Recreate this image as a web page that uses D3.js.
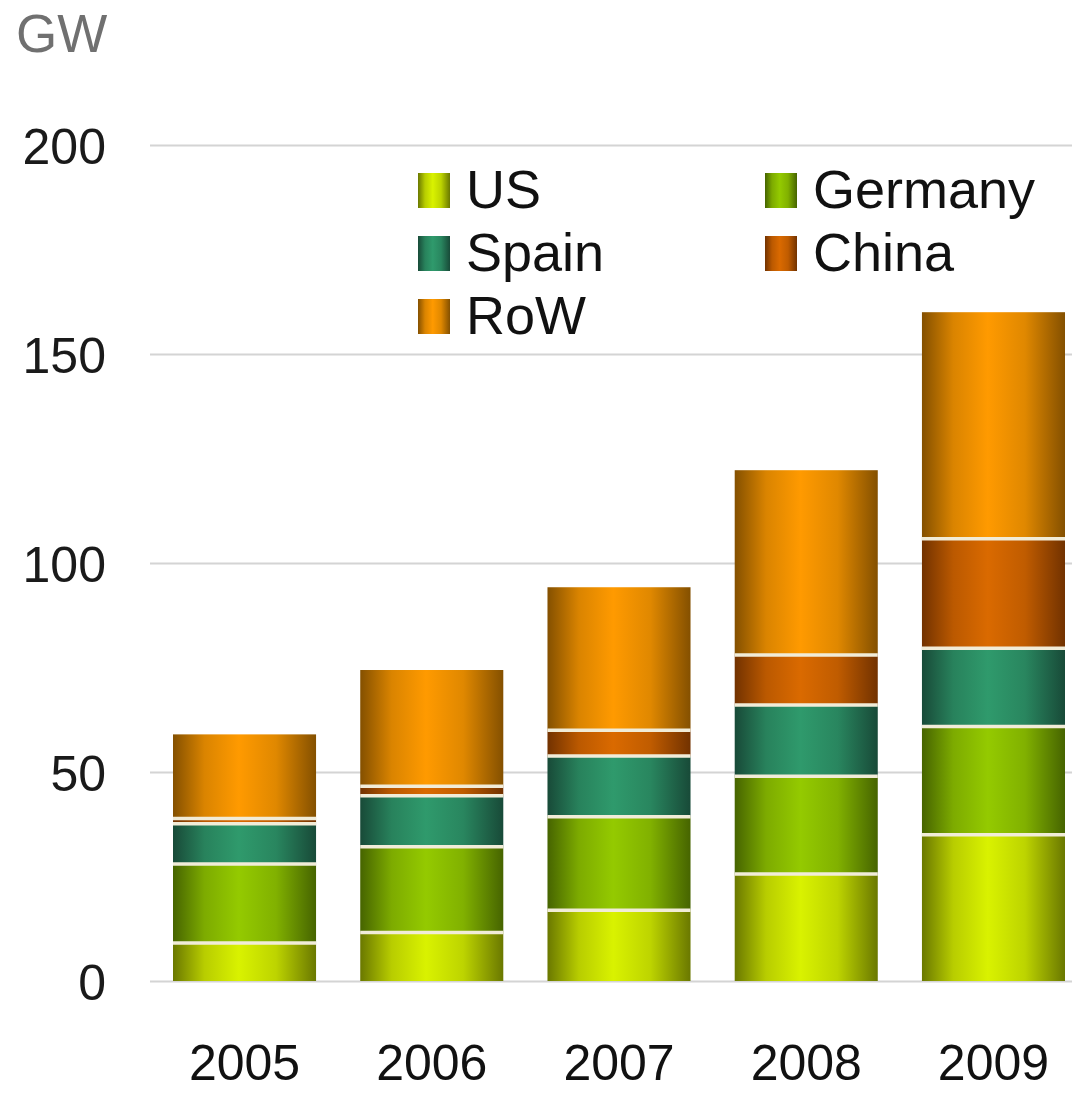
<!DOCTYPE html>
<html>
<head>
<meta charset="utf-8">
<script src="https://cdn.jsdelivr.net/npm/d3@7"></script>
<style>
  html, body { margin: 0; padding: 0; background: #ffffff; }
  svg { display: block; font-family: "Liberation Sans", Arial, sans-serif; }
</style>
</head>
<body>
<svg id="chart" width="1072" height="1093"></svg>
<script>
// Cumulative installed wind capacity (GW) by country
const years = ["2005", "2006", "2007", "2008", "2009"];
const seriesNames = ["US", "Germany", "Spain", "China", "RoW"];
const us      = [9.1, 11.6, 16.9, 25.6, 35.0];
const germany = [18.9, 20.5, 22.4, 23.4, 25.9];
const spain   = [9.6, 12.2, 14.5, 17.0, 18.7];
const china   = [1.3, 2.3, 6.2, 12.0, 26.2];
const row     = [20.1, 27.8, 34.2, 44.2, 54.2];
const yTicks  = [0, 50, 100, 150, 200];
const unitLabel = "GW";

// edge (dark) and centre (bright) colours for the cylinder shading
const palette = {
  US:      { edge: "#6a7800", mid: "#d9f200" },
  Germany: { edge: "#466400", mid: "#94ca00" },
  Spain:   { edge: "#184a38", mid: "#2f9a6c" },
  China:   { edge: "#723200", mid: "#da6a00" },
  RoW:     { edge: "#845000", mid: "#ff9a00" }
};

const table = years.map((yr, i) => ({
  year: yr, US: us[i], Germany: germany[i], Spain: spain[i], China: china[i], RoW: row[i]
}));

const svg = d3.select("#chart");

const x = d3.scaleBand().domain(years).range([173, 1065]).paddingInner(0.236).paddingOuter(0);
const y = d3.scaleLinear().domain([0, 200]).range([981, 145]);

// gradients
const defs = svg.append("defs");
seriesNames.forEach(name => {
  const g = defs.append("linearGradient")
    .attr("id", "grad-" + name)
    .attr("x1", "0%").attr("x2", "100%").attr("y1", "0%").attr("y2", "0%");
  g.append("stop").attr("offset", "0%").attr("stop-color", palette[name].edge);
  g.append("stop").attr("offset", "22%").attr("stop-color", d3.interpolateRgb(palette[name].edge, palette[name].mid)(0.7));
  g.append("stop").attr("offset", "46%").attr("stop-color", palette[name].mid);
  g.append("stop").attr("offset", "72%").attr("stop-color", d3.interpolateRgb(palette[name].edge, palette[name].mid)(0.75));
  g.append("stop").attr("offset", "100%").attr("stop-color", palette[name].edge);
});

// gridlines
const yAxis = d3.axisLeft(y).tickValues(yTicks).tickSize(-(1072 - 150)).tickFormat(d3.format("d"));
const gy = svg.append("g").attr("transform", "translate(150,0)").call(yAxis);
gy.select(".domain").remove();
gy.selectAll(".tick line").attr("stroke", "#d4d4d4").attr("stroke-width", 2);
gy.selectAll(".tick text")
  .attr("x", -44)
  .attr("dy", "0.36em")
  .attr("font-size", 50)
  .attr("fill", "#1a1a1a")
  .attr("font-family", "'Liberation Sans', Arial, sans-serif");

// unit label
svg.append("text")
  .attr("x", 16).attr("y", 52)
  .attr("font-size", 53)
  .attr("fill", "#707070")
  .text(unitLabel);

// stacked bars
const stacked = d3.stack().keys(seriesNames)(table);

const layers = svg.append("g").selectAll("g")
  .data(stacked)
  .join("g")
  .attr("fill", d => "url(#grad-" + d.key + ")");

layers.selectAll("rect")
  .data(d => d.map(v => ({ key: d.key, v })))
  .join("rect")
  .attr("x", d => x(d.v.data.year))
  .attr("width", x.bandwidth())
  .attr("y", d => y(d.v[1]))
  .attr("height", d => y(d.v[0]) - y(d.v[1]));

// light separators between stacked segments
const seps = [];
stacked.slice(0, -1).forEach(layer => {
  layer.forEach(v => seps.push({ year: v.data.year, val: v[1] }));
});
svg.append("g").selectAll("line")
  .data(seps)
  .join("line")
  .attr("x1", d => x(d.year))
  .attr("x2", d => x(d.year) + x.bandwidth())
  .attr("y1", d => y(d.val))
  .attr("y2", d => y(d.val))
  .attr("stroke", "#f1ecd8")
  .attr("stroke-width", 3.5);

// year labels
const xAxis = d3.axisBottom(x).tickSize(0).tickPadding(0);
const gx = svg.append("g").attr("transform", "translate(0,1080)").call(xAxis);
gx.select(".domain").remove();
gx.selectAll(".tick text")
  .attr("y", 0).attr("dy", 0)
  .attr("font-size", 50)
  .attr("fill", "#111111")
  .attr("font-family", "'Liberation Sans', Arial, sans-serif");

// legend
const legendItems = [
  { name: "US", col: 0, row: 0 },
  { name: "Germany", col: 1, row: 0 },
  { name: "Spain", col: 0, row: 1 },
  { name: "China", col: 1, row: 1 },
  { name: "RoW", col: 0, row: 2 }
];
const legend = svg.append("g");
const li = legend.selectAll("g")
  .data(legendItems)
  .join("g")
  .attr("transform", d => `translate(${418 + d.col * 347},${173 + d.row * 63})`);
li.append("rect")
  .attr("width", 32).attr("height", 35)
  .attr("fill", d => "url(#grad-" + d.name + ")");
li.append("text")
  .attr("x", 48).attr("y", 35)
  .attr("font-size", 54)
  .attr("fill", "#111111")
  .text(d => d.name);
</script>
</body>
</html>
